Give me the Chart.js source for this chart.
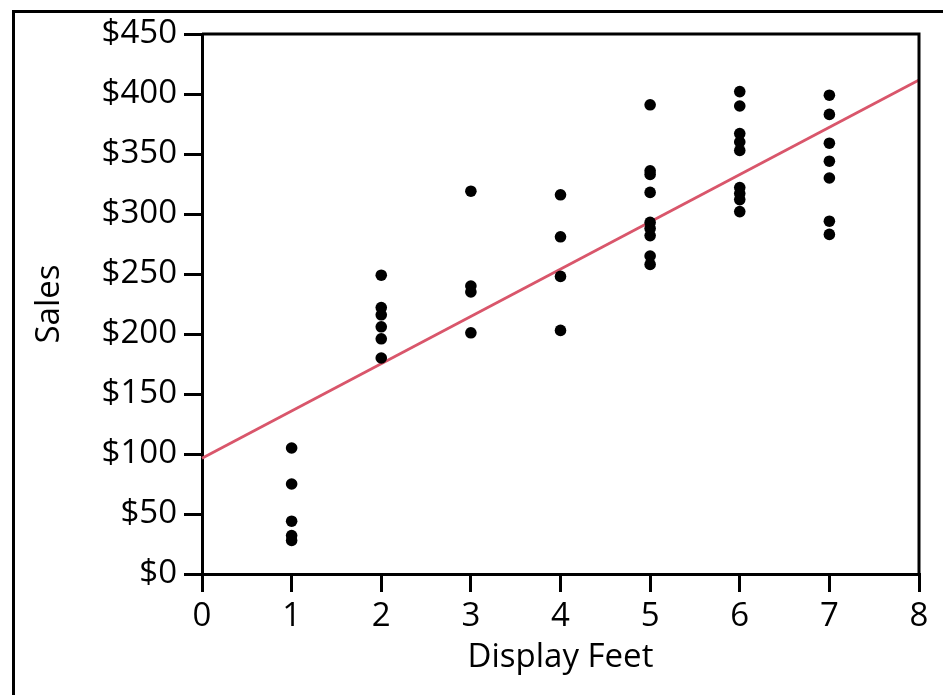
<!DOCTYPE html>
<html>
<head>
<meta charset="utf-8">
<title>Sales vs Display Feet</title>
<script src="https://cdn.jsdelivr.net/npm/chart.js@4"></script>
<style>
  html, body { margin: 0; padding: 0; background: #fff; }
  #wrap { width: 943px; height: 695px; position: relative; }
</style>
</head>
<body>
<div id="wrap"><canvas id="chart" width="943" height="695"></canvas></div>
<script>
// Data: display feet (x) and sales (y)
const feet1 = [105, 75, 44, 32, 28];
const feet2 = [249, 222, 216, 206, 196, 180];
const feet3 = [319, 240, 235, 201];
const feet4 = [316, 281, 248, 203];
const feet5 = [391, 336, 333, 318, 293, 288, 282, 265, 258];
const feet6 = [402, 390, 367, 360, 353, 322, 317, 312, 302];
const feet7 = [399, 383, 359, 344, 330, 294, 283];
const salesByFeet = [feet1, feet2, feet3, feet4, feet5, feet6, feet7];

// Fitted line end points
const fitX = [0, 8];
const fitY = [96.4, 411.6];

const xTicks = [0, 1, 2, 3, 4, 5, 6, 7, 8];
const yTicks = [0, 50, 100, 150, 200, 250, 300, 350, 400, 450];

// Build scatter points
const points = [];
salesByFeet.forEach((list, i) => {
  list.forEach((v) => points.push({ x: i + 1, y: v }));
});

const fitPoints = fitX.map((x, i) => ({ x: x, y: fitY[i] }));

// Frame round the plot area and the outer box
const framePlugin = {
  id: "frame",
  beforeDraw(chart) {
    const ctx = chart.ctx;
    ctx.save();
    ctx.strokeStyle = "#000";
    ctx.lineWidth = 3;
    ctx.strokeRect(13.5, 11.5, 2000, 2000);
    ctx.restore();
  },
  afterDatasetsDraw(chart) {
    const { ctx, chartArea } = chart;
    ctx.save();
    ctx.strokeStyle = "#000";
    ctx.lineWidth = 3;
    ctx.beginPath();
    ctx.moveTo(chartArea.left, chartArea.top);
    ctx.lineTo(chartArea.right, chartArea.top);
    ctx.lineTo(chartArea.right, chartArea.bottom);
    ctx.stroke();
    ctx.restore();
  },
};

const font = { family: "'Open Sans', sans-serif", size: 33 };

new Chart(document.getElementById("chart"), {
  type: "scatter",
  data: {
    datasets: [
      {
        label: "Fit",
        type: "line",
        data: fitPoints,
        borderColor: "#d9566b",
        borderWidth: 2.8,
        pointRadius: 0,
        fill: false,
        order: 2,
      },
      {
        label: "Sales",
        data: points,
        backgroundColor: "#000",
        borderColor: "#000",
        pointRadius: 5.8,
        pointHoverRadius: 5.8,
        borderWidth: 0,
        order: 1,
      },
    ],
  },
  options: {
    responsive: false,
    animation: false,
    clip: false,
    layout: { padding: { top: 34, right: 24, left: 30, bottom: 18 } },
    plugins: {
      legend: { display: false },
      tooltip: { enabled: false },
    },
    scales: {
      x: {
        type: "linear",
        min: 0,
        max: 8,
        afterBuildTicks: (scale) => {
          scale.ticks = xTicks.map((v) => ({ value: v }));
        },
        afterFit: (scale) => {
          scale.height = 103;
        },
        grid: {
          drawOnChartArea: false,
          color: "#000",
          lineWidth: 3,
          tickLength: 18,
        },
        border: { color: "#000", width: 3 },
        ticks: { color: "#000", font: font, padding: 5, maxRotation: 0 },
        title: {
          display: true,
          text: "Display Feet",
          color: "#000",
          font: font,
          padding: { top: 0, bottom: 0 },
        },
      },
      y: {
        type: "linear",
        min: 0,
        max: 450,
        afterBuildTicks: (scale) => {
          scale.ticks = yTicks.map((v) => ({ value: v }));
        },
        afterFit: (scale) => {
          scale.width = 172;
        },
        grid: {
          drawOnChartArea: false,
          color: "#000",
          lineWidth: 3,
          tickLength: 18,
        },
        border: { color: "#000", width: 3 },
        ticks: {
          color: "#000",
          font: font,
          padding: 7,
          callback: (value) => "$" + value,
        },
        title: {
          display: true,
          text: "Sales",
          color: "#000",
          font: font,
          padding: { top: 0, bottom: 0 },
        },
      },
    },
  },
  plugins: [framePlugin],
});
</script>
</body>
</html>
